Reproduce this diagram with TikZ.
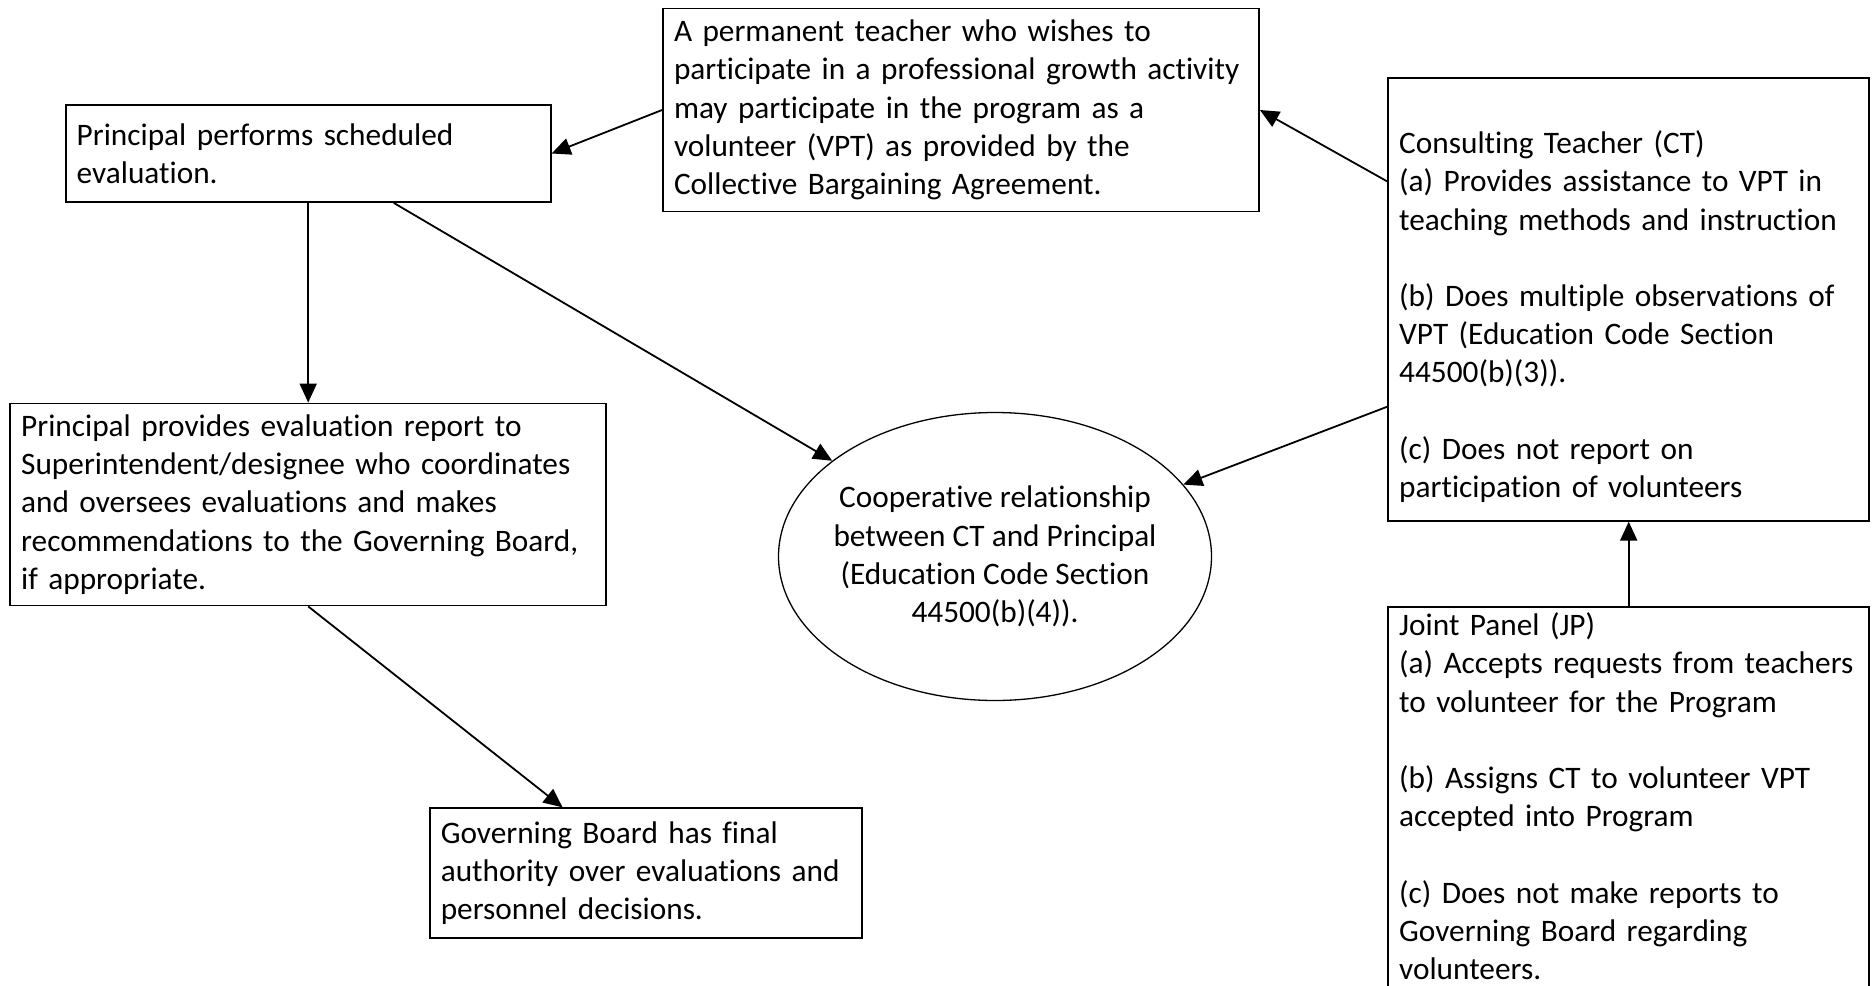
\documentclass[tikz,border=0pt]{standalone}
\usepackage{fontspec}
\setmainfont{Carlito}[Ligatures=NoCommon]
\usetikzlibrary{arrows.meta,shapes.geometric}
\tikzset{
    block/.style = {draw, rectangle, line width=1.8pt,
        inner xsep=11pt, inner ysep=0pt, align=left},
    relation/.style = {draw, ellipse, line width=1.3pt,
        minimum width=433pt, minimum height=288pt, inner xsep=-10pt, inner ysep=0pt, align=center},
    arrow/.style = {draw, ->, line width=1.8pt}
}

\begin{document}
\begin{tikzpicture}[x=1pt, y=-1pt, >={Triangle[length=19pt,width=17pt]},
    font=\fontsize{31.3}{38.2}\selectfont]
    \useasboundingbox (0,0) rectangle (1873,985);
        \node [block, minimum width=485pt, minimum height=97pt, text width=463pt, name=evalbox] at (308.2,153.5)
            {Principal performs scheduled\\evaluation.};
        \node [block, minimum width=596pt, minimum height=203pt, text width=574pt, name=vpt] at (961,110)
            {A permanent teacher who wishes to\\participate in a professional growth activity\\may participate in the program as a\\volunteer (VPT) as provided by the\\Collective Bargaining Agreement.};
        \node [block, minimum width=481pt, minimum height=443pt, text width=459pt, name=ct] at (1628.7,299.2)
            {\mbox{}\\[19.8pt]Consulting Teacher (CT)\\(a) Provides assistance to VPT in\\teaching methods and instruction\\[38.2pt]
            (b) Does multiple observations of\\VPT (Education Code Section\\44500(b)(3)).\\[38.2pt]
            (c) Does not report on\\participation of volunteers};
        \node [block, below of=evalbox, node distance=351pt, minimum width=596pt, minimum height=202pt, text width=574pt, name=report]
            {Principal provides evaluation report to\\Superintendent/designee who coordinates\\and oversees evaluations and makes\\recommendations to the Governing Board,\\if appropriate.};
        \node [relation, name=coop] at (995,556.5)
            {Cooperative relationship\\between CT and Principal\\(Education Code Section\\44500(b)(4)).};
        \node [block, minimum width=432pt, minimum height=130pt, text width=410pt, name=board] at (645.8,873.3)
            {Governing Board has final\\authority over evaluations and\\personnel decisions.};
        \node [block, below of=ct, node distance=519pt, minimum width=481pt, minimum height=423pt, text width=459pt, name=jp]
            {Joint Panel (JP)\\(a) Accepts requests from teachers\\to volunteer for the Program\\[38.2pt]
            (b) Assigns CT to volunteer VPT\\accepted into Program\\[38.2pt]
            (c) Does not make reports to\\Governing Board regarding\\volunteers.\\[5.8pt]\mbox{}};
    \draw [arrow] (vpt.west) -- (evalbox.east);
    \draw [arrow] (ct.154) -- (vpt.east);
    \draw [arrow] (evalbox.south) -- (evalbox.south |- report.north);
    \draw [arrow] (evalbox.-30) -- (coop);
    \draw [arrow] (ct.204) -- (coop);
    \draw [arrow] (jp.north) -- (ct.south);
    \draw [arrow] (report.south) -- (board);
\end{tikzpicture}
\end{document}
